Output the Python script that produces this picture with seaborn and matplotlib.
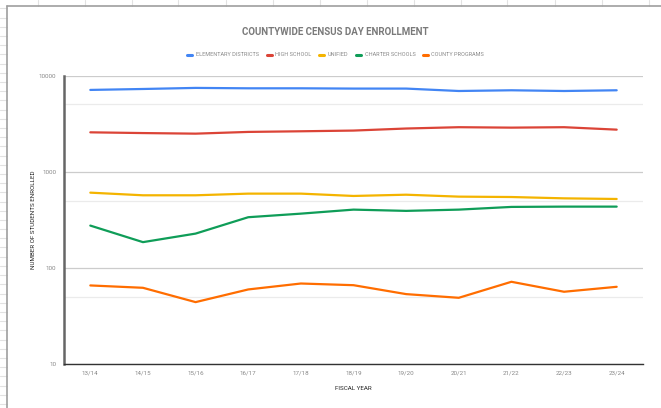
import numpy as np
import pandas as pd
import matplotlib
matplotlib.use("Agg")
import matplotlib.pyplot as plt
import seaborn as sns
from matplotlib.lines import Line2D
from matplotlib.ticker import FixedLocator, FixedFormatter, NullFormatter

# data
years = ["13/14", "14/15", "15/16", "16/17", "17/18", "18/19",
         "19/20", "20/21", "21/22", "22/23", "23/24"]
elementary = [7080, 7240, 7430, 7360, 7360, 7310, 7310, 6900, 7020, 6900, 7020]
high_school = [2565, 2520, 2485, 2590, 2630, 2675, 2810, 2900, 2870, 2900, 2735]
unified = [605, 568, 568, 591, 591, 559, 576, 550, 545, 528, 520]
charter = [275, 185, 227, 336, 366, 403, 391, 403, 430, 433, 433]
county = [65.6, 62, 44, 59.6, 68.7, 66, 53.3, 48.8, 71.6, 56.4, 63.5]

series = ["ELEMENTARY DISTRICTS", "HIGH SCHOOL", "UNIFIED",
          "CHARTER SCHOOLS", "COUNTY PROGRAMS"]
colors = ["#4285F4", "#DB4437", "#F4B400", "#0F9D58", "#FF6D00"]

df = pd.DataFrame({
    "year": years * 5,
    "x": list(range(len(years))) * 5,
    "series": np.repeat(series, len(years)),
    "value": elementary + high_school + unified + charter + county,
})

sns.set_style("white")
plt.rcParams["font.family"] = ["Roboto", "DejaVu Sans"]

W, H = 661, 408
fig = plt.figure(figsize=(W / 100, H / 100), dpi=100)

# spreadsheet cells around the chart box
for yy in np.arange(8.3, H, 9.2):
    fig.add_artist(Line2D([0, 7 / W], [1 - yy / H] * 2, color="#e2e2e2", lw=0.8))
for xx in np.arange(37.5, W, 47):
    fig.add_artist(Line2D([xx / W] * 2, [1, 1 - 6 / H], color="#e2e2e2", lw=0.8))
fig.add_artist(Line2D([7 / W, 7 / W], [0, 1 - 6 / H], color="#9e9e9e", lw=1.2))
fig.add_artist(Line2D([7 / W, 1], [1 - 6 / H, 1 - 6 / H], color="#9e9e9e", lw=1.2))

ax = fig.add_axes([64 / W, 1 - 364 / H, (643 - 64) / W, (364 - 75.5) / H])

sns.lineplot(data=df, x="x", y="value", hue="series", hue_order=series,
             palette=colors, linewidth=1.6, ax=ax, legend=False)

ax.set_yscale("log")
ax.set_ylim(10, 10000)
ax.set_xlim(-0.5, len(years) - 0.5)

ax.yaxis.set_major_locator(FixedLocator([10, 100, 1000, 10000]))
ax.yaxis.set_major_formatter(FixedFormatter(["10", "100", "1000", "10000"]))
ax.yaxis.set_minor_locator(FixedLocator([50, 500, 5000]))
ax.yaxis.set_minor_formatter(NullFormatter())
ax.set_xticks(range(len(years)))
ax.set_xticklabels(years)

ax.grid(True, which="major", axis="y", color="#cccccc", lw=0.9)
ax.grid(True, which="minor", axis="y", color="#ebebeb", lw=0.9)
ax.grid(False, axis="x")
ax.set_axisbelow(True)

for s in ["top", "right"]:
    ax.spines[s].set_visible(False)
ax.spines["left"].set_color("#666666")
ax.spines["left"].set_linewidth(1.8)
ax.spines["bottom"].set_color("#333333")
ax.spines["bottom"].set_linewidth(1.0)

ax.tick_params(axis="both", which="major", direction="inout", length=6,
               width=1.0, color="#222222", labelsize=4.5, labelcolor="#888888")
ax.tick_params(axis="y", which="minor", direction="in", length=3,
               width=1.0, color="#222222")
ax.tick_params(axis="x", pad=2)
ax.tick_params(axis="y", pad=2.5)

ax.set_xlabel("FISCAL YEAR", fontsize=4.5, color="#222222", labelpad=7)
ax.set_ylabel("NUMBER OF STUDENTS ENROLLED", fontsize=4.5, color="#222222",
              labelpad=2)

fig.text(0.507, 1 - 32 / H, "COUNTYWIDE CENSUS DAY ENROLLMENT", ha="center",
         va="center", fontsize=7, color="#7a7a7a", fontweight="bold")

handles = [Line2D([0], [0], color=c, lw=2.2) for c in colors]
fig.legend(handles, series, loc="center", bbox_to_anchor=(0.508, 1 - 55 / H),
           ncol=5, frameon=False, fontsize=4.0, labelcolor="#888888",
           handlelength=0.9, handletextpad=0.7, columnspacing=1.3)

fig.savefig("out.png", dpi=100)
